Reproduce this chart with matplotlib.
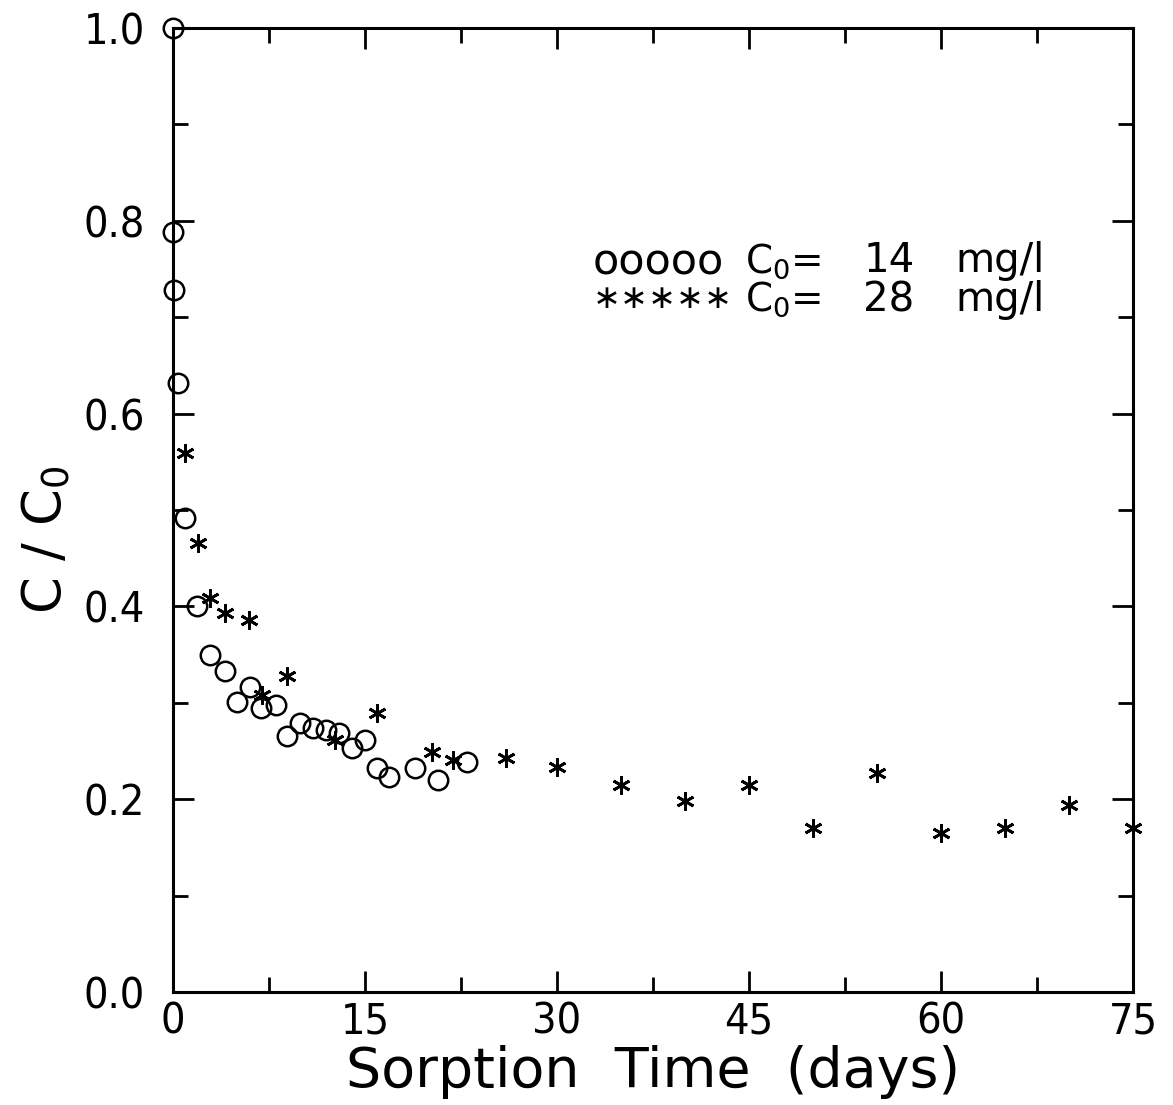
import matplotlib
matplotlib.use("Agg")
import matplotlib.pyplot as plt
from matplotlib.ticker import MultipleLocator, FormatStrFormatter

# Data
t_14 = [0.0, 0.0, 0.05, 0.4, 0.95, 1.9, 2.9, 4.05, 5.0, 6.0, 6.9, 8.05, 8.9, 9.9,
        10.9, 11.95, 13.0, 14.0, 15.0, 15.9, 16.9, 18.9, 20.7, 23.0]
c_14 = [1.0, 0.788, 0.728, 0.632, 0.492, 0.40, 0.35, 0.333, 0.301, 0.316, 0.295, 0.298,
        0.265, 0.279, 0.274, 0.272, 0.269, 0.253, 0.261, 0.232, 0.223, 0.232, 0.22, 0.239]

t_28 = [0.95, 1.95, 2.9, 4.05, 5.9, 6.95, 8.9, 12.65, 15.9, 20.2, 21.9,
        26.0, 30.0, 35.0, 40.0, 45.0, 50.0, 55.0, 60.0, 65.0, 70.0, 75.0]
c_28 = [0.559, 0.466, 0.409, 0.393, 0.386, 0.308, 0.328, 0.261, 0.289, 0.249, 0.241,
        0.243, 0.233, 0.215, 0.198, 0.215, 0.170, 0.227, 0.165, 0.170, 0.194, 0.170]

x_ticks = [0, 15, 30, 45, 60, 75]
y_ticks = [0.0, 0.2, 0.4, 0.6, 0.8, 1.0]

legend_symbols = ["ooooo", "∗∗∗∗∗"]
legend_conc = ["14", "28"]

plt.rcParams['font.family'] = ['DejaVu Sans']
plt.rcParams['mathtext.fontset'] = 'dejavusans'

fig = plt.figure(figsize=(11.73, 11.05), dpi=100)
ax = fig.add_axes([0.1475, 0.1023, 0.8184, 0.8724])

ax.plot(t_14, c_14, linestyle='none', marker='o', markersize=14, markerfacecolor='none',
        markeredgecolor='black', markeredgewidth=1.8, clip_on=False)
ax.plot(t_28, c_28, linestyle='none', marker=(6, 2, 0), markersize=13,
        markeredgecolor='black', markeredgewidth=2.0, clip_on=False)

ax.set_xlim(0, 75)
ax.set_ylim(0, 1.0)
ax.set_xticks(x_ticks)
ax.set_yticks(y_ticks)
ax.xaxis.set_minor_locator(MultipleLocator(7.5))
ax.yaxis.set_minor_locator(MultipleLocator(0.1))
ax.yaxis.set_major_formatter(FormatStrFormatter('%.1f'))

for s in ax.spines.values():
    s.set_linewidth(2.2)

ax.tick_params(which='both', direction='in', top=True, right=True, width=2.0,
               labelsize=31)
ax.tick_params(axis='x', pad=6)
ax.tick_params(axis='y', pad=20)
ax.tick_params(which='major', length=15)
ax.tick_params(which='minor', length=11)
for lab in ax.get_xticklabels() + ax.get_yticklabels():
    lab.set_fontstretch('condensed')

ax.set_xlabel("Sorption  Time  (days)", fontsize=40, labelpad=2)
ax.set_ylabel("C / C$_0$", fontsize=38)
ax.yaxis.set_label_coords(-0.104, 0.469)

# legend drawn as text, as in the original figure
rows_y = [0.757, 0.719]
mid_y = sum(rows_y) / 2
for sym, yy in zip(legend_symbols, rows_y):
    ax.text(0.4375, yy, sym, transform=ax.transAxes, fontsize=31 if sym[0] == 'o' else 24,
            ha='left', va='center')
ax.text(0.596, mid_y, "\n".join(["C$_0$="] * len(legend_conc)), transform=ax.transAxes,
        fontsize=28, ha='left', va='center', linespacing=0.95)
ax.text(0.719, mid_y, "\n".join(legend_conc), transform=ax.transAxes,
        fontsize=29, ha='left', va='center', linespacing=1.0)
ax.text(0.815, mid_y, "\n".join(["mg/l"] * len(legend_conc)), transform=ax.transAxes,
        fontsize=29, ha='left', va='center', linespacing=0.95)

fig.savefig("out.png", dpi=100)
